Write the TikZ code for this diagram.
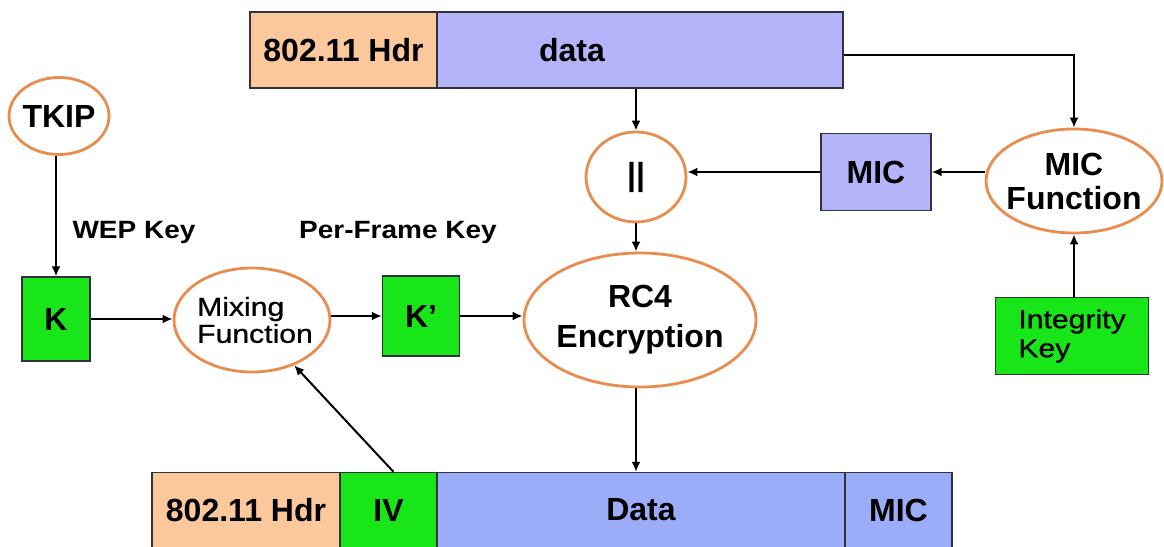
\documentclass[tikz,border=0pt]{standalone}
\usepackage{fontspec}
\setmainfont{Liberation Sans}
\newfontfamily\widesans[FakeStretch=1.12]{Liberation Sans}
\newfontfamily\widemedium[FakeStretch=1.16,FakeBold=0.8]{Liberation Sans}
\usetikzlibrary{arrows.meta,shapes.geometric}
\definecolor{peach}{RGB}{250,200,155}
\definecolor{lavtop}{RGB}{180,180,250}
\definecolor{lavbot}{RGB}{155,172,248}
\definecolor{keygreen}{RGB}{25,230,25}
\definecolor{ringorange}{RGB}{232,140,80}
\definecolor{edgegray}{RGB}{50,50,60}
\tikzset{
  field/.style={draw=edgegray, line width=1.3pt, rectangle, inner sep=0pt,
                font=\bfseries\fontsize{32}{38}\selectfont},
  keybox/.style={field, fill=keygreen},
  % negative inner sep: the ellipse size is set by minimum width/height only
  func/.style={ellipse, draw=ringorange, line width=2.8pt, fill=white, inner sep=-40pt,
               align=center},
  bigtxt/.style={font=\bfseries\fontsize{32}{38}\selectfont},
  smalltxt/.style={font=\widesans\bfseries\fontsize{25}{29}\selectfont},
  medtxt/.style={font=\widemedium\fontsize{26}{29}\selectfont},
  flow/.style={line width=2pt, -{Latex[length=10pt,width=9pt]}},
}
\begin{document}
\begin{tikzpicture}[x=1pt,y=-1pt]
\useasboundingbox (0,0) rectangle (1164,546);

% plain frame on top
\node[field, fill=peach, minimum width=187pt, minimum height=76pt] (hdrA) at (343.5,50) {802.11 Hdr};
\node[field, fill=lavtop, minimum width=406pt, minimum height=76pt] (dataA) at (640,50) {};
\node[bigtxt] (dataAtxt) at (572,50) {data};

% key path
\node[func, bigtxt, minimum width=100pt, minimum height=77pt] (tkip) at (59,116) {TKIP};
\node[keybox, minimum width=68pt, minimum height=84pt] (k) at (56,319) {K};
\node[func, medtxt, align=left, minimum width=156pt, minimum height=104pt] (mix) at (252,320) {\hspace*{6pt}Mixing\\[-2pt]\hspace*{6pt}Function};
\node[keybox, minimum width=77pt, minimum height=80pt] (kp) at (421,316) {K’};
\node[func, bigtxt, minimum width=232pt, minimum height=134pt] (rc4) at (640,320) {RC4\\[2pt]Encryption};
\node[smalltxt] (wep) at (134,232) {WEP Key};
\node[smalltxt] (pfk) at (398,232) {Per-Frame Key};

% integrity path
\node[func, bigtxt, minimum width=100pt, minimum height=90pt] (cat) at (636,177) {||};
\node[field, fill=lavtop, minimum width=110pt, minimum height=77pt] (micA) at (876,172) {MIC};
\node[func, bigtxt, minimum width=176pt, minimum height=104pt] (micf) at (1074,181) {MIC\\[-4pt]Function};
\node[keybox, medtxt, align=left, minimum width=153pt, minimum height=77pt] (ik) at (1072,336) {Integrity\\Key};

% encrypted frame at the bottom
\node[field, fill=peach, minimum width=188pt, minimum height=75pt] (hdrB) at (246,510) {802.11 Hdr};
\node[field, fill=keygreen, minimum width=97pt, minimum height=75pt] (iv) at (388.5,510) {IV};
\node[field, fill=lavbot, minimum width=408pt, minimum height=75pt] (dataB) at (641,510) {Data};
\node[field, fill=lavbot, minimum width=107pt, minimum height=75pt] (micB) at (898.5,510) {MIC};

% connectors
\draw[flow] (tkip.south -| k.north) -- (k.north);
\draw[flow] (k.east) -- (mix.west |- k.east);
\draw[flow] (mix.east |- kp.west) -- (kp.west);
\draw[flow] (kp.east) -- (rc4.west |- kp.east);
\draw[flow] ([xshift=5pt]iv.north) -- (mix);
\draw[flow] (cat.north |- dataA.south) -- (cat.north);
\draw[flow] (cat.south) -- (rc4.north -| cat.south);
\draw[flow] (rc4.south -| cat.south) -- (dataB.north -| cat.south);
\draw[flow] ([yshift=-5pt]dataA.east) -| (micf.north);
\draw[flow] (micf.west |- micA.east) -- (micA.east);
\draw[flow] (micA.west) -- (cat.east |- micA.west);
\draw[flow] (ik.north -| micf.south) -- (micf.south);
\end{tikzpicture}
\end{document}
